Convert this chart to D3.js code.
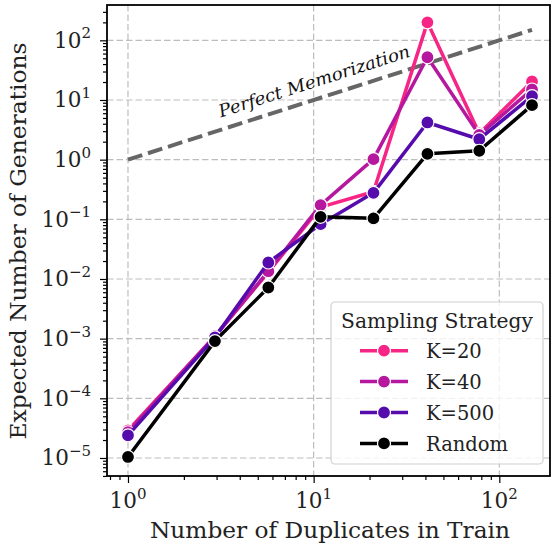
<!DOCTYPE html>
<html><head><meta charset="utf-8">
<script src="https://cdn.jsdelivr.net/npm/d3@7"></script>
<style>html,body{margin:0;padding:0;background:#fff;}svg{display:block;font-family:"DejaVu Serif",serif;}</style>
</head><body>
<script>
const duplicates = [1, 2.94, 5.7, 10.9, 21, 41, 78, 150];
const seriesNames = ["K=20", "K=40", "K=500", "Random"];
const seriesColors = ["#f72585", "#b5179e", "#560bad", "#000000"];
const k20 = [2.9e-5, 1.1e-3, 0.013, 0.16, 0.29, 200, 2.75, 20.5];
const k40 = [2.7e-5, 1.1e-3, 0.0135, 0.173, 1.02, 52, 2.6, 15];
const k500 = [2.4e-5, 1.05e-3, 0.0189, 0.083, 0.278, 4.2, 2.2, 11.6];
const random = [1.04e-5, 9.1e-4, 7.2e-3, 0.11, 0.104, 1.25, 1.41, 8.2];
const seriesValues = [k20, k40, k500, random];
const memorizationX = [1, 150];
const xTickLabels = ["0", "1", "2"];
const yTickLabels = ["−5", "−4", "−3", "−2", "−1", "0", "1", "2"];

const W = 553, H = 545;
const m = {left: 107, right: 3, top: 5, bottom: 69};
const svg = d3.select("body").append("svg").attr("width", W).attr("height", H);
const x = d3.scaleLog().domain([Math.pow(10, -0.113), Math.pow(10, 2.273)]).range([m.left, W - m.right]);
const y = d3.scaleLog().domain([Math.pow(10, -5.302), Math.pow(10, 2.592)]).range([H - m.bottom, m.top]);

const g = svg.append("g");
// grid
const xMaj = xTickLabels.map(e => Math.pow(10, +e));
const yMaj = yTickLabels.map(e => Math.pow(10, +e.replace("−", "-")));
g.selectAll(".gx").data(xMaj).join("line").attr("x1", d => x(d)).attr("x2", d => x(d))
  .attr("y1", m.top).attr("y2", H - m.bottom).attr("stroke", "#bdbdbd").attr("stroke-width", 1.2).attr("stroke-dasharray", "6.5,3");
g.selectAll(".gy").data(yMaj).join("line").attr("y1", d => y(d)).attr("y2", d => y(d))
  .attr("x1", m.left).attr("x2", W - m.right).attr("stroke", "#bdbdbd").attr("stroke-width", 1.2).attr("stroke-dasharray", "6.5,3");

// perfect memorization line
svg.append("line").attr("x1", x(memorizationX[0])).attr("y1", y(memorizationX[0]))
  .attr("x2", x(memorizationX[1])).attr("y2", y(memorizationX[1]))
  .attr("stroke", "#666").attr("stroke-width", 4).attr("stroke-dasharray", "15,6");
const ang = Math.atan2(y(memorizationX[1]) - y(memorizationX[0]), x(memorizationX[1]) - x(memorizationX[0])) * 180 / Math.PI;
const lx = 316, ly = 87;
svg.append("text").attr("transform", `translate(${lx},${ly}) rotate(${ang})`).attr("text-anchor", "middle")
  .attr("font-style", "italic").attr("font-size", 17.5).attr("fill", "#111")
  .attr("textLength", 200).attr("lengthAdjust", "spacingAndGlyphs").text("Perfect Memorization");

// series
const line = d3.line().x((d, i) => x(duplicates[i])).y(d => y(d));
seriesValues.forEach((vals, si) => {
  svg.append("path").datum(vals).attr("d", line).attr("fill", "none").attr("stroke", seriesColors[si])
    .attr("stroke-width", 3.5).attr("stroke-linejoin", "round");
  svg.selectAll(null).data(vals).join("circle").attr("cx", (d, i) => x(duplicates[i])).attr("cy", d => y(d))
    .attr("r", 6.5).attr("fill", seriesColors[si]).attr("stroke", "#fff").attr("stroke-width", 1.2);
});

// frame
svg.append("rect").attr("x", m.left).attr("y", m.top).attr("width", W - m.left - m.right).attr("height", H - m.top - m.bottom)
  .attr("fill", "none").attr("stroke", "#000").attr("stroke-width", 1.8);

// axes ticks
const xAxis = d3.axisBottom(x).tickValues(xMaj).tickSize(7).tickFormat("");
svg.append("g").attr("transform", `translate(0,${H - m.bottom})`).call(xAxis);
const xMinor = [];
for (let e = -1; e <= 2; e++) for (let k = 2; k <= 9; k++) { const v = k * Math.pow(10, e); if (v > x.domain()[0] && v < x.domain()[1]) xMinor.push(v); }
svg.append("g").attr("transform", `translate(0,${H - m.bottom})`).call(d3.axisBottom(x).tickValues(xMinor).tickSize(4).tickFormat(""));
const yAxis = d3.axisLeft(y).tickValues(yMaj).tickSize(7).tickFormat("");
svg.append("g").attr("transform", `translate(${m.left},0)`).call(yAxis);
const yMinor = [];
for (let e = -6; e <= 2; e++) for (let k = 2; k <= 9; k++) { const v = k * Math.pow(10, e); if (v > y.domain()[0] && v < y.domain()[1]) yMinor.push(v); }
svg.append("g").attr("transform", `translate(${m.left},0)`).call(d3.axisLeft(y).tickValues(yMinor).tickSize(4).tickFormat(""));
svg.selectAll(".domain").remove();
svg.selectAll(".tick line").attr("stroke", "#000").attr("stroke-width", 1.2);

// tick labels
xTickLabels.forEach((e, i) => {
  const t = svg.append("text").attr("x", x(xMaj[i])).attr("y", H - m.bottom + 32).attr("text-anchor", "middle").attr("font-size", 21.5).attr("fill", "#222");
  t.append("tspan").text("10");
  t.append("tspan").attr("font-size", 15).attr("dy", -9.5).text(e);
});
yTickLabels.forEach((e, i) => {
  const t = svg.append("text").attr("x", m.left - 16).attr("y", y(yMaj[i]) + 7.5).attr("text-anchor", "end").attr("font-size", 21.5).attr("fill", "#222");
  t.append("tspan").text("10");
  t.append("tspan").attr("font-size", 15).attr("dy", -9.5).text(e);
});

// axis labels
svg.append("text").attr("x", 330).attr("y", 537.5).attr("text-anchor", "middle").attr("font-size", 22)
  .attr("textLength", 360).attr("lengthAdjust", "spacingAndGlyphs").attr("fill", "#222").text("Number of Duplicates in Train");
svg.append("text").attr("transform", `translate(25.5,241) rotate(-90)`).attr("text-anchor", "middle").attr("font-size", 22)
  .attr("textLength", 397).attr("lengthAdjust", "spacingAndGlyphs").attr("fill", "#222").text("Expected Number of Generations");

// legend
const lg = svg.append("g");
lg.append("rect").attr("x", 331).attr("y", 302).attr("width", 212).attr("height", 162).attr("rx", 4)
  .attr("fill", "rgba(255,255,255,0.8)").attr("stroke", "#d0d0d0").attr("stroke-width", 1.2);
lg.append("text").attr("x", 437).attr("y", 327.5).attr("text-anchor", "middle").attr("font-size", 19.5)
  .attr("textLength", 192).attr("lengthAdjust", "spacingAndGlyphs").attr("fill", "#222").text("Sampling Strategy");
seriesNames.forEach((n, i) => {
  const yy = 350.7 + i * 30.9;
  lg.append("line").attr("x1", 360).attr("x2", 408).attr("y1", yy).attr("y2", yy).attr("stroke", seriesColors[i]).attr("stroke-width", 3.5);
  lg.append("circle").attr("cx", 384).attr("cy", yy).attr("r", 6.5).attr("fill", seriesColors[i]).attr("stroke", "#fff").attr("stroke-width", 1.2);
  lg.append("text").attr("x", 426).attr("y", yy + 7.5).attr("font-size", 19.5).attr("fill", "#222").text(n);
});
</script>
</body></html>
